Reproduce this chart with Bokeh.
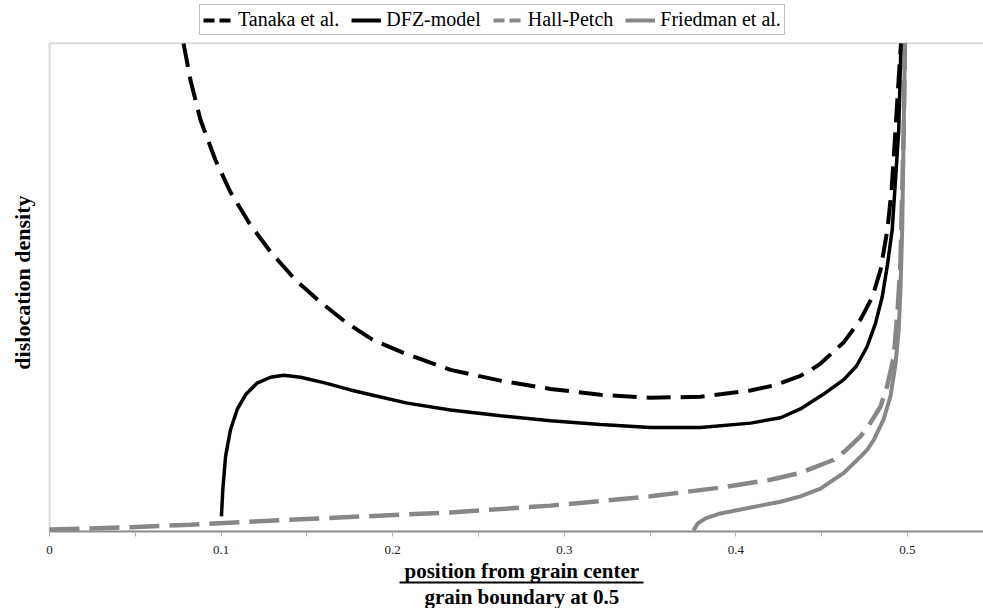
import math
from bokeh.plotting import figure
from bokeh.models import (Range1d, Legend, LegendItem, FixedTicker, LinearAxis,
                          Title, BoxAnnotation, Label)
from bokeh.embed import file_html
from bokeh.resources import INLINE

# ---------------- data ----------------
x_ticks = [0, 0.1, 0.2, 0.3, 0.4, 0.5]
x_tick_labels = ["0", "0.1", "0.2", "0.3", "0.4", "0.5"]
x_minor_ticks = [0.05, 0.15, 0.25, 0.35, 0.45]

series_names = ["Tanaka et al.", "DFZ-model", "Hall-Petch", "Friedman et al."]
x_title_top = "position from grain center"
x_title_bottom = "grain boundary at 0.5"
y_title = "dislocation density"

# extent of the plot box
x_end = 0.5443
y_top = 100

tanaka_x = [0.0781, 0.0822, 0.0880, 0.0967, 0.1055, 0.1171, 0.1288, 0.1434,
            0.1579, 0.1725, 0.1882, 0.2063, 0.2337, 0.2628, 0.2920, 0.3211, 0.3502,
            0.3794, 0.4085, 0.4231, 0.4376, 0.4434, 0.4493, 0.4627, 0.4726, 0.4796,
            0.4843, 0.4883, 0.4907, 0.4930, 0.4948, 0.4962]
tanaka_y = [100.0, 92.4, 84.3, 76.1, 69.5, 62.8, 57.3, 51.5,
            47.0, 42.9, 39.3, 36.6, 33.1, 30.9, 29.2, 28.0, 27.4,
            27.6, 28.9, 30.0, 31.9, 33.0, 34.4, 38.7, 43.4, 48.1,
            53.6, 61.8, 69.9, 82.2, 92.4, 100.0]

dfz_x = [0.1002, 0.1010, 0.1026, 0.1055, 0.1094, 0.1142, 0.1210, 0.1288, 0.1365,
         0.1463, 0.1598, 0.1754, 0.1910, 0.2085, 0.2337, 0.2628, 0.2920, 0.3211,
         0.3502, 0.3794, 0.4085, 0.4260, 0.4376, 0.4505, 0.4629, 0.4703, 0.4765,
         0.4814, 0.4853, 0.4883, 0.4911, 0.4930, 0.4949, 0.4962]
dfz_y = [3.1, 8.6, 15.4, 20.9, 25.0, 28.0, 30.4, 31.6, 32.0,
         31.6, 30.5, 29.0, 27.7, 26.3, 24.9, 23.7, 22.7, 21.9,
         21.3, 21.3, 22.2, 23.3, 25.1, 28.0, 31.1, 33.9, 37.9,
         42.7, 48.1, 54.6, 61.8, 72.0, 82.2, 100.0]

hp_x = [0.0, 0.0414, 0.0822, 0.1463, 0.2337, 0.2920, 0.3502, 0.3910, 0.4202,
        0.4376, 0.4571, 0.4640, 0.4726, 0.4785, 0.4843, 0.4883, 0.4920, 0.4942,
        0.4959, 0.4978, 0.4985]
hp_y = [0.4, 0.8, 1.4, 2.5, 3.9, 5.3, 7.2, 9.0, 10.6,
        12.0, 14.7, 16.6, 19.5, 22.3, 25.6, 30.0, 35.8, 45.0,
        54.9, 82.2, 100.0]

fr_x = [0.3753, 0.3776, 0.3823, 0.3910, 0.4027, 0.4143, 0.4260, 0.4376, 0.4493,
        0.4629, 0.4726, 0.4767, 0.4804, 0.4860, 0.4901, 0.4930, 0.4949, 0.4959,
        0.4969, 0.4978, 0.4985]
fr_y = [0.2, 1.6, 2.7, 3.7, 4.5, 5.3, 6.1, 7.2, 8.8,
        12.0, 15.3, 16.8, 18.8, 22.9, 27.7, 34.2, 41.3, 49.5,
        61.8, 82.2, 100.0]

# fraction bar under the x title spans these x values
frac_bar = (0.2040, 0.3462)

# ---------------- styling ----------------
SERIF = "Liberation Serif"
BLACK = "#000000"
GRAY = "#878787"
FRAME = "#8c8c8c"

PX_PER_X = 1716.0        # pixels per x unit
LEFT_PAD = 49            # pixels left of x = 0
FRAME_H = 533            # frame height in px (includes legend area)
PX_PER_Y = 4.90

p = figure(width=983, height=608, output_backend="svg", toolbar_location=None,
           x_range=Range1d(-LEFT_PAD / PX_PER_X, x_end),
           y_range=Range1d(0, FRAME_H / PX_PER_Y),
           min_border_left=0, min_border_right=0, min_border_top=0,
           min_border_bottom=75)
p.xgrid.visible = False
p.ygrid.visible = False
p.outline_line_color = None
p.background_fill_color = "white"
p.border_fill_color = "white"
p.yaxis.visible = False

xa = p.xaxis[0]
xa.bounds = (0, x_end)
xa.ticker = FixedTicker(ticks=x_ticks, minor_ticks=x_minor_ticks)
xa.major_label_overrides = {t: l for t, l in zip(x_ticks, x_tick_labels)}
xa.axis_line_color = FRAME
xa.axis_line_width = 2
xa.major_tick_in = 0
xa.major_tick_out = 5
xa.minor_tick_in = 0
xa.minor_tick_out = 5
xa.major_tick_line_color = "#b0b0b0"
xa.minor_tick_line_color = "#b0b0b0"
xa.major_label_text_font = SERIF
xa.major_label_text_font_size = "13px"
xa.major_label_text_color = "#222222"
xa.major_label_standoff = 9

# plot box (left, top; right edge lies outside the picture)
p.add_layout(BoxAnnotation(left=0, right=0.6, bottom=0, top=y_top,
                           fill_alpha=0, line_color=FRAME, line_width=2))

# y title
p.add_layout(Label(x=-27 / PX_PER_X, y=51, text=y_title,
                   angle=math.pi / 2, text_align="center", text_baseline="middle",
                   text_font=SERIF, text_font_style="bold", text_font_size="22px",
                   text_color=BLACK))

# curves (gray first, black on top)
p.line(hp_x, hp_y, line_color=GRAY, line_width=4.5, line_dash="30 10")
p.line(fr_x, fr_y, line_color=GRAY, line_width=4)
p.line(tanaka_x, tanaka_y, line_color=BLACK, line_width=4, line_dash="24 10")
p.line(dfz_x, dfz_y, line_color=BLACK, line_width=3.5)

# legend swatches: hidden copies with a shorter dash for the legend
lg_t = p.line(tanaka_x, tanaka_y, line_color=BLACK, line_width=4,
              line_dash="11 5", visible=False)
lg_d = p.line(dfz_x, dfz_y, line_color=BLACK, line_width=4, visible=False)
lg_h = p.line(hp_x, hp_y, line_color=GRAY, line_width=4, line_dash="11 5",
              visible=False)
lg_f = p.line(fr_x, fr_y, line_color=GRAY, line_width=4, visible=False)

legend = Legend(
    items=[LegendItem(label=n, renderers=[r]) for n, r in
           zip(series_names, [lg_t, lg_d, lg_h, lg_f])],
    orientation="horizontal", location=(199, 496),
    label_text_font=SERIF, label_text_font_size="20px", label_text_color=BLACK,
    glyph_width=30, glyph_height=20, label_height=20, label_standoff=5,
    spacing=12, padding=3, margin=0,
    border_line_color="#808080", border_line_width=1.5,
    background_fill_color="white", background_fill_alpha=1.0,
)
p.add_layout(legend, "center")

# x-axis title drawn as a fraction: numerator, bar, denominator
t_top = Title(text=x_title_top, align="left", offset=404, standoff=0,
              text_font=SERIF, text_font_style="bold", text_font_size="21px",
              text_color=BLACK)
p.add_layout(t_top, "below")

bar_axis = LinearAxis(bounds=frac_bar, ticker=FixedTicker(ticks=[]),
                      axis_line_color=BLACK, axis_line_width=2,
                      major_tick_in=0, major_tick_out=0,
                      minor_tick_in=0, minor_tick_out=0,
                      major_label_standoff=0, major_label_text_font_size="0px")
p.add_layout(bar_axis, "below")

t_bot = Title(text=x_title_bottom, align="left", offset=424, standoff=0,
              text_font=SERIF, text_font_style="bold", text_font_size="21px",
              text_color=BLACK)
p.add_layout(t_bot, "below")

open("out.html", "w").write(file_html(p, INLINE))
